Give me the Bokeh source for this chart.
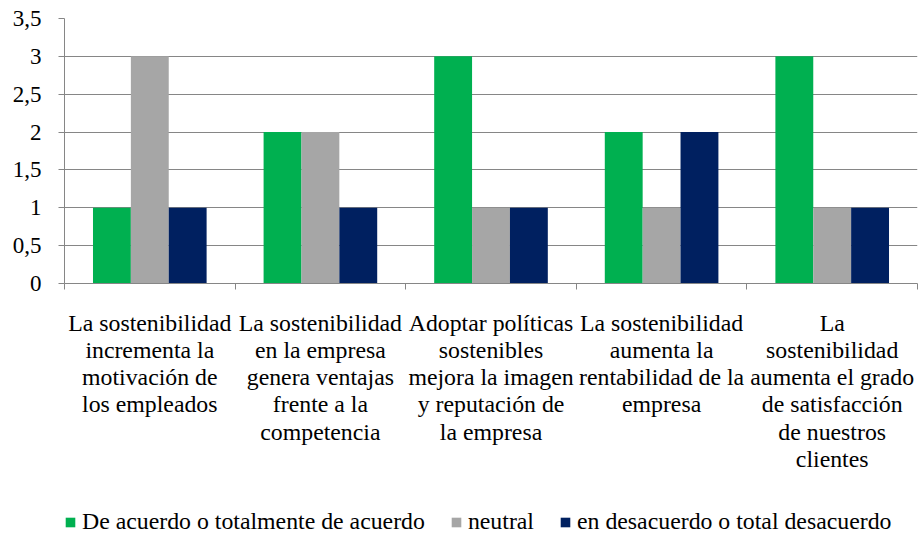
from bokeh.plotting import figure
from bokeh.models import (Range1d, FixedTicker, CustomJSTickFormatter, ColumnDataSource,
                          Legend, LegendItem)
from bokeh.layouts import column
from bokeh.embed import file_html
from bokeh.resources import INLINE

categories = [
    ["La sostenibilidad", "incrementa la", "motivación de", "los empleados"],
    ["La sostenibilidad", "en la empresa", "genera ventajas", "frente a la", "competencia"],
    ["Adoptar políticas", "sostenibles", "mejora la imagen", "y reputación de", "la empresa"],
    ["La sostenibilidad", "aumenta la", "rentabilidad de la", "empresa"],
    ["La", "sostenibilidad", "aumenta el grado", "de satisfacción", "de nuestros", "clientes"],
]
series_names = ["De acuerdo o totalmente de acuerdo", "neutral", "en desacuerdo o total desacuerdo"]
acuerdo = [1, 2, 3, 2, 3]
neutral = [3, 2, 1, 1, 1]
desacuerdo = [1, 1, 1, 2, 1]
y_ticks = [0, 0.5, 1, 1.5, 2, 2.5, 3, 3.5]

colors = ["#00B050", "#A6A6A6", "#002060"]
FONT = "Liberation Serif"
FS_TICK = "23px"
FS = "23.8px"
GRID = "#868686"

n = len(categories)
labels = ["\n".join(c) for c in categories]
centers = [i + 0.5 for i in range(n)]
bw = 0.222

W = 919
H_MAIN, H_LEG = 498, 37
TOP = 18
BOTTOM = H_MAIN - 283
p = figure(width=W, height=H_MAIN, output_backend="svg", toolbar_location=None,
           x_range=Range1d(0, n), y_range=Range1d(0, 3.5),
           min_border_left=64, min_border_right=2, min_border_top=TOP, min_border_bottom=BOTTOM,
           background_fill_color="white", border_fill_color="white")
p.outline_line_color = None
p.xgrid.visible = False
p.ygrid.grid_line_color = GRID
p.ygrid.grid_line_width = 1
p.ygrid.ticker = FixedTicker(ticks=y_ticks)

for k, vals in enumerate([acuerdo, neutral, desacuerdo]):
    xs = [c + (k - 1) * bw for c in centers]
    src = ColumnDataSource(dict(x=xs, top=vals))
    p.vbar(x="x", top="top", width=bw, bottom=0, source=src,
           fill_color=colors[k], line_color=None)

# y axis
ya = p.yaxis[0]
ya.ticker = FixedTicker(ticks=y_ticks)
ya.formatter = CustomJSTickFormatter(code="return tick.toString().replace('.', ',')")
ya.axis_line_color = GRID
ya.major_tick_line_color = GRID
ya.major_tick_out = 6
ya.major_tick_in = 0
ya.minor_tick_line_color = None
ya.major_label_standoff = 17
ya.major_label_text_font = FONT
ya.major_label_text_font_size = FS_TICK
ya.major_label_text_color = "black"

# x axis
xa = p.xaxis[0]
xa.ticker = FixedTicker(ticks=centers, minor_ticks=list(range(n + 1)))
xa.formatter = CustomJSTickFormatter(args=dict(labels=labels),
                                     code="return labels[Math.floor(tick)]")
xa.axis_line_color = GRID
xa.major_tick_line_color = None
xa.major_tick_out = 0
xa.major_tick_in = 0
xa.minor_tick_line_color = GRID
xa.minor_tick_out = 6
xa.minor_tick_in = 0
xa.major_label_standoff = 20
xa.major_label_text_font = FONT
xa.major_label_text_font_size = FS
xa.major_label_text_color = "black"
xa.major_label_text_line_height = 1.051

# legend in its own strip below the chart
lp = figure(width=W, height=H_LEG, output_backend="svg", toolbar_location=None,
            x_range=Range1d(0, 1), y_range=Range1d(0, 1),
            min_border=0, min_border_left=0, min_border_right=0,
            min_border_top=0, min_border_bottom=0,
            x_axis_type=None, y_axis_type=None,
            background_fill_color="white", border_fill_color="white")
lp.outline_line_color = None
lp.grid.visible = False
leg_renderers = []
for k in range(3):
    # zero-height placeholder bar: only its style is used by the legend
    r = lp.vbar(x=[0.5], top=[0], bottom=0, width=0.1, fill_color=colors[k], line_color=None)
    leg_renderers.append(r)

legend = Legend(items=[LegendItem(label=series_names[k], renderers=[leg_renderers[k]]) for k in range(3)],
                orientation="horizontal", location=(0, 0),
                glyph_width=12, glyph_height=12, label_standoff=6, spacing=25,
                padding=0, margin=0, border_line_color=None, background_fill_alpha=0,
                label_text_font=FONT, label_text_font_size=FS, label_text_color="black")
lp.add_layout(legend, "center")

layout = column(p, lp, spacing=0)
open("out.html", "w").write(file_html(layout, INLINE))
